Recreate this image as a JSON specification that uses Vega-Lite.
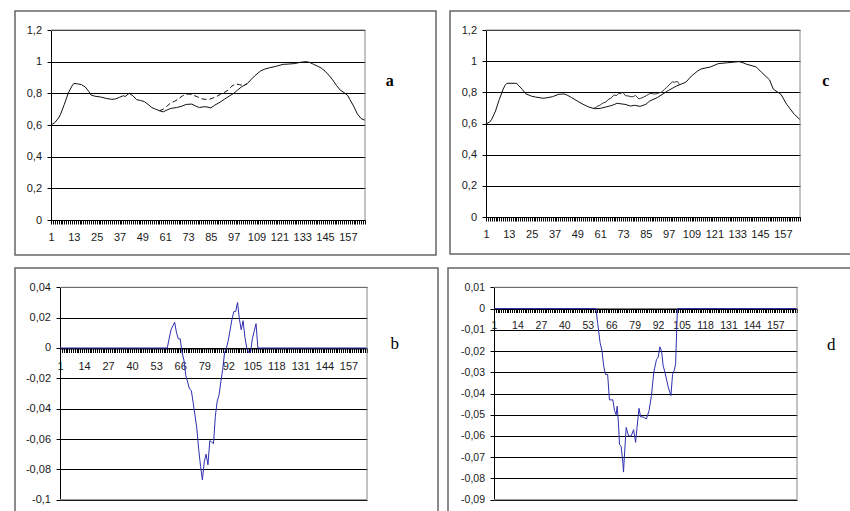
{
"$schema": "https://vega.github.io/schema/vega-lite/v6.json",
"padding": {"left": 14, "top": 10, "right": 0, "bottom": 0},
"background": "white",
"spacing": 11,
"datasets": {
"a1": [{"x":1,"y":0.6},{"x":3,"y":0.615},{"x":5,"y":0.645},{"x":6,"y":0.667},{"x":8,"y":0.73},{"x":10,"y":0.8},{"x":12,"y":0.846},{"x":13,"y":0.862},{"x":15,"y":0.86},{"x":17,"y":0.855},{"x":19,"y":0.84},{"x":21,"y":0.81},{"x":22,"y":0.79},{"x":24,"y":0.782},{"x":27,"y":0.777},{"x":30,"y":0.768},{"x":33,"y":0.762},{"x":35,"y":0.765},{"x":37,"y":0.775},{"x":39,"y":0.785},{"x":40,"y":0.78},{"x":42,"y":0.8},{"x":44,"y":0.785},{"x":46,"y":0.76},{"x":48,"y":0.755},{"x":50,"y":0.748},{"x":52,"y":0.73},{"x":54,"y":0.71},{"x":56,"y":0.7},{"x":58,"y":0.69},{"x":60,"y":0.683},{"x":62,"y":0.695},{"x":64,"y":0.705},{"x":67,"y":0.71},{"x":70,"y":0.72},{"x":72,"y":0.73},{"x":75,"y":0.732},{"x":77,"y":0.72},{"x":79,"y":0.71},{"x":81,"y":0.715},{"x":83,"y":0.714},{"x":85,"y":0.708},{"x":87,"y":0.725},{"x":90,"y":0.745},{"x":92,"y":0.762},{"x":95,"y":0.785},{"x":97,"y":0.8},{"x":99,"y":0.82},{"x":101,"y":0.84},{"x":104,"y":0.86},{"x":106,"y":0.885},{"x":108,"y":0.91},{"x":111,"y":0.94},{"x":113,"y":0.952},{"x":116,"y":0.962},{"x":119,"y":0.97},{"x":123,"y":0.983},{"x":126,"y":0.985},{"x":129,"y":0.988},{"x":132,"y":0.996},{"x":135,"y":1.0},{"x":137,"y":0.995},{"x":139,"y":0.983},{"x":141,"y":0.972},{"x":143,"y":0.96},{"x":145,"y":0.94},{"x":147,"y":0.915},{"x":149,"y":0.885},{"x":151,"y":0.85},{"x":153,"y":0.82},{"x":155,"y":0.805},{"x":157,"y":0.785},{"x":158,"y":0.762},{"x":160,"y":0.72},{"x":162,"y":0.67},{"x":164,"y":0.64},{"x":166,"y":0.63}],
"a2": [{"x":58,"y":0.69},{"x":60,"y":0.7},{"x":62,"y":0.72},{"x":64,"y":0.74},{"x":66,"y":0.75},{"x":68,"y":0.765},{"x":70,"y":0.783},{"x":72,"y":0.795},{"x":74,"y":0.795},{"x":76,"y":0.787},{"x":78,"y":0.778},{"x":80,"y":0.766},{"x":82,"y":0.762},{"x":84,"y":0.762},{"x":86,"y":0.77},{"x":88,"y":0.78},{"x":90,"y":0.794},{"x":92,"y":0.805},{"x":94,"y":0.82},{"x":96,"y":0.845},{"x":98,"y":0.86},{"x":100,"y":0.855},{"x":102,"y":0.85},{"x":104,"y":0.86}],
"c1": [{"x":1,"y":0.597},{"x":3,"y":0.61},{"x":4,"y":0.627},{"x":6,"y":0.68},{"x":8,"y":0.755},{"x":10,"y":0.82},{"x":11,"y":0.845},{"x":12,"y":0.858},{"x":17,"y":0.858},{"x":18,"y":0.845},{"x":20,"y":0.82},{"x":22,"y":0.79},{"x":25,"y":0.775},{"x":27,"y":0.77},{"x":31,"y":0.762},{"x":33,"y":0.765},{"x":36,"y":0.772},{"x":39,"y":0.787},{"x":42,"y":0.79},{"x":44,"y":0.78},{"x":46,"y":0.766},{"x":49,"y":0.744},{"x":52,"y":0.723},{"x":55,"y":0.706},{"x":58,"y":0.695},{"x":61,"y":0.697},{"x":64,"y":0.706},{"x":66,"y":0.712},{"x":68,"y":0.72},{"x":70,"y":0.73},{"x":72,"y":0.726},{"x":74,"y":0.723},{"x":77,"y":0.712},{"x":79,"y":0.717},{"x":82,"y":0.71},{"x":85,"y":0.723},{"x":87,"y":0.744},{"x":91,"y":0.766},{"x":94,"y":0.79},{"x":97,"y":0.813},{"x":101,"y":0.84},{"x":104,"y":0.855},{"x":106,"y":0.865},{"x":109,"y":0.905},{"x":112,"y":0.935},{"x":114,"y":0.95},{"x":119,"y":0.963},{"x":123,"y":0.984},{"x":128,"y":0.99},{"x":134,"y":0.997},{"x":136,"y":0.99},{"x":138,"y":0.98},{"x":143,"y":0.963},{"x":146,"y":0.926},{"x":150,"y":0.88},{"x":152,"y":0.82},{"x":156,"y":0.787},{"x":159,"y":0.723},{"x":163,"y":0.659},{"x":166,"y":0.625}],
"c2": [{"x":57.5,"y":0.698},{"x":58.5,"y":0.702},{"x":59.8,"y":0.712},{"x":60.9,"y":0.717},{"x":61.8,"y":0.726},{"x":62.8,"y":0.733},{"x":64,"y":0.737},{"x":65,"y":0.752},{"x":66.9,"y":0.765},{"x":67.8,"y":0.778},{"x":68.7,"y":0.783},{"x":69.3,"y":0.778},{"x":70,"y":0.784},{"x":70.6,"y":0.793},{"x":71.5,"y":0.792},{"x":72.5,"y":0.798},{"x":72.8,"y":0.801},{"x":73.4,"y":0.792},{"x":74.3,"y":0.778},{"x":75.6,"y":0.777},{"x":77.1,"y":0.772},{"x":78.4,"y":0.772},{"x":79.5,"y":0.78},{"x":80.3,"y":0.771},{"x":81.4,"y":0.758},{"x":82.3,"y":0.762},{"x":83.6,"y":0.768},{"x":85.5,"y":0.78},{"x":87,"y":0.792},{"x":88.3,"y":0.792},{"x":89.6,"y":0.789},{"x":91.1,"y":0.792},{"x":92,"y":0.797},{"x":93,"y":0.8},{"x":93.9,"y":0.808},{"x":94.8,"y":0.82},{"x":95.8,"y":0.83},{"x":97.6,"y":0.853},{"x":99.1,"y":0.868},{"x":100,"y":0.864},{"x":101,"y":0.869},{"x":101.7,"y":0.869},{"x":102.3,"y":0.856},{"x":102.7,"y":0.848}],
"b": [{"x":1,"y":0},{"x":59,"y":0},{"x":61,"y":0.012},{"x":63,"y":0.017},{"x":64,"y":0.01},{"x":65,"y":0.006},{"x":66,"y":0.006},{"x":67,"y":-0.003},{"x":68,"y":-0.008},{"x":69,"y":-0.018},{"x":71,"y":-0.027},{"x":72,"y":-0.028},{"x":73,"y":-0.036},{"x":75,"y":-0.053},{"x":76,"y":-0.067},{"x":77,"y":-0.078},{"x":78,"y":-0.087},{"x":79,"y":-0.075},{"x":80,"y":-0.07},{"x":81,"y":-0.077},{"x":82,"y":-0.061},{"x":83,"y":-0.062},{"x":84,"y":-0.063},{"x":85,"y":-0.045},{"x":86,"y":-0.035},{"x":87,"y":-0.031},{"x":88,"y":-0.022},{"x":89,"y":-0.014},{"x":90,"y":-0.003},{"x":91,"y":0},{"x":92,"y":0.005},{"x":93,"y":0.012},{"x":94,"y":0.019},{"x":95,"y":0.024},{"x":96,"y":0.024},{"x":97,"y":0.03},{"x":98,"y":0.019},{"x":99,"y":0.012},{"x":100,"y":0.018},{"x":101,"y":0.007},{"x":102,"y":0},{"x":103,"y":-0.003},{"x":104,"y":-0.003},{"x":105,"y":0.006},{"x":106,"y":0.011},{"x":107,"y":0.016},{"x":108,"y":0},{"x":167,"y":0}],
"d": [{"x":1,"y":0},{"x":57.5,"y":0},{"x":58.5,"y":-0.007},{"x":59.8,"y":-0.016},{"x":60.9,"y":-0.02},{"x":61.8,"y":-0.027},{"x":62.8,"y":-0.031},{"x":64,"y":-0.031},{"x":65,"y":-0.043},{"x":66.9,"y":-0.043},{"x":67.8,"y":-0.048},{"x":68.7,"y":-0.05},{"x":69.3,"y":-0.046},{"x":70,"y":-0.054},{"x":70.6,"y":-0.064},{"x":71.5,"y":-0.065},{"x":72.5,"y":-0.073},{"x":72.8,"y":-0.077},{"x":73.4,"y":-0.068},{"x":74.3,"y":-0.056},{"x":75.6,"y":-0.06},{"x":77.1,"y":-0.06},{"x":78.4,"y":-0.057},{"x":79.5,"y":-0.063},{"x":80.3,"y":-0.056},{"x":81.4,"y":-0.047},{"x":82.3,"y":-0.051},{"x":83.6,"y":-0.051},{"x":85.5,"y":-0.052},{"x":87,"y":-0.048},{"x":88.3,"y":-0.041},{"x":89.6,"y":-0.03},{"x":91.1,"y":-0.024},{"x":92,"y":-0.023},{"x":93,"y":-0.018},{"x":93.9,"y":-0.02},{"x":94.8,"y":-0.027},{"x":95.8,"y":-0.03},{"x":97.6,"y":-0.037},{"x":99.1,"y":-0.041},{"x":100,"y":-0.031},{"x":101,"y":-0.029},{"x":101.7,"y":-0.026},{"x":102.3,"y":-0.01},{"x":102.7,"y":0},{"x":169,"y":0}]
},
"vconcat": [
{"spacing": 12, "hconcat": [
{"width": 421, "height": 244, "layer": [
 {"data": {"name": "a1"}, "mark": {"type": "line", "color": "#111", "strokeWidth": 1}, "encoding": {"x": {"field": "x", "type": "quantitative", "scale": {"domain": [1,166], "range": [36,350], "nice": false, "zero": false}, "axis": {"title": null, "tickCount": 166, "labelExpr": "(datum.value - 1) % 12 === 0 ? datum.label : ''", "offset": -35}}, "y": {"field": "y", "type": "quantitative", "scale": {"domain": [0,1.2], "range": [209,19], "nice": false, "zero": false}, "axis": {"title": null, "values": [0,0.2,0.4,0.6,0.8,1,1.2], "tickCount": 20, "labelExpr": "replace('' + datum.value, '.', ',')", "offset": -36}}}},
 {"data": {"name": "a2"}, "mark": {"type": "line", "color": "#111", "strokeWidth": 1, "strokeDash": [5,3]}, "encoding": {"x": {"field": "x", "type": "quantitative"}, "y": {"field": "y", "type": "quantitative"}}},
 {"data": {"values": [{}]}, "mark": {"type": "rule", "color": "#888"}, "encoding": {"x": {"datum": 1, "type": "quantitative"}, "x2": {"datum": 166}, "y": {"datum": 1.2, "type": "quantitative"}}},
 {"data": {"values": [{}]}, "mark": {"type": "rule", "color": "#888"}, "encoding": {"x": {"datum": 166, "type": "quantitative"}, "y": {"datum": 0, "type": "quantitative"}, "y2": {"datum": 1.2}}},
 {"data": {"values": [{}]}, "mark": {"type": "text", "text": "a", "font": "Liberation Serif", "fontSize": 16, "fontWeight": "bold", "color": "#000"}, "encoding": {"x": {"datum": 179, "type": "quantitative"}, "y": {"datum": 0.878, "type": "quantitative"}}}
]},
{"width": 420, "height": 243, "layer": [
 {"data": {"name": "c1"}, "mark": {"type": "line", "color": "#111", "strokeWidth": 1}, "encoding": {"x": {"field": "x", "type": "quantitative", "scale": {"domain": [1,166], "range": [36,350], "nice": false, "zero": false}, "axis": {"title": null, "tickCount": 166, "labelExpr": "(datum.value - 1) % 12 === 0 ? datum.label : ''", "offset": -37}}, "y": {"field": "y", "type": "quantitative", "scale": {"domain": [0,1.2], "range": [206,19], "nice": false, "zero": false}, "axis": {"title": null, "values": [0,0.2,0.4,0.6,0.8,1,1.2], "tickCount": 20, "labelExpr": "replace('' + datum.value, '.', ',')", "offset": -36}}}},
 {"data": {"name": "c2"}, "mark": {"type": "line", "color": "#333", "strokeWidth": 1}, "encoding": {"x": {"field": "x", "type": "quantitative"}, "y": {"field": "y", "type": "quantitative"}}},
 {"data": {"values": [{}]}, "mark": {"type": "rule", "color": "#888"}, "encoding": {"x": {"datum": 1, "type": "quantitative"}, "x2": {"datum": 166}, "y": {"datum": 1.2, "type": "quantitative"}}},
 {"data": {"values": [{}]}, "mark": {"type": "rule", "color": "#888"}, "encoding": {"x": {"datum": 166, "type": "quantitative"}, "y": {"datum": 0, "type": "quantitative"}, "y2": {"datum": 1.2}}},
 {"data": {"values": [{}]}, "mark": {"type": "text", "text": "c", "font": "Liberation Serif", "fontSize": 16, "fontWeight": "bold", "color": "#000"}, "encoding": {"x": {"datum": 179.6, "type": "quantitative"}, "y": {"datum": 0.873, "type": "quantitative"}}}
]}
]},
{"spacing": 8, "hconcat": [
{"width": 423, "height": 260, "layer": [
 {"data": {"name": "b"}, "mark": {"type": "line", "color": "#2e2eb0", "strokeWidth": 1}, "encoding": {"x": {"field": "x", "type": "quantitative", "scale": {"domain": [1,167], "range": [45,352], "nice": false, "zero": false}, "axis": {"title": null, "tickCount": 167, "labelExpr": "(datum.value - 1) % 13 === 0 ? datum.label : ''", "offset": -179.5}}, "y": {"field": "y", "type": "quantitative", "scale": {"domain": [-0.1,0.04], "range": [231.7,19.3], "nice": false, "zero": false}, "axis": {"title": null, "values": [-0.1,-0.08,-0.06,-0.04,-0.02,0,0.02,0.04], "tickCount": 20, "labelExpr": "replace('' + datum.value, '.', ',')", "offset": -45}}}},
 {"data": {"values": [{}]}, "mark": {"type": "rule", "color": "#888"}, "encoding": {"x": {"datum": 1, "type": "quantitative"}, "x2": {"datum": 167}, "y": {"datum": 0.04, "type": "quantitative"}}},
 {"data": {"values": [{}]}, "mark": {"type": "rule", "color": "#888"}, "encoding": {"x": {"datum": 1, "type": "quantitative"}, "x2": {"datum": 167}, "y": {"datum": -0.1, "type": "quantitative"}}},
 {"data": {"values": [{}]}, "mark": {"type": "rule", "color": "#888"}, "encoding": {"x": {"datum": 167, "type": "quantitative"}, "y": {"datum": -0.1, "type": "quantitative"}, "y2": {"datum": 0.04}}},
 {"data": {"values": [{}]}, "mark": {"type": "text", "text": "b", "font": "Liberation Serif", "fontSize": 17, "color": "#000"}, "encoding": {"x": {"datum": 182, "type": "quantitative"}, "y": {"datum": 0.0023, "type": "quantitative"}}}
]},
{"width": 420, "height": 260, "layer": [
 {"data": {"name": "d"}, "mark": {"type": "line", "color": "#2e2eb0", "strokeWidth": 1}, "encoding": {"x": {"field": "x", "type": "quantitative", "scale": {"domain": [1,169], "range": [46,349], "nice": false, "zero": false}, "axis": {"title": null, "tickCount": 169, "labelExpr": "(datum.value - 1) % 13 === 0 ? datum.label : ''", "offset": -219.5, "labelFontSize": 10.5}}, "y": {"field": "y", "type": "quantitative", "scale": {"domain": [-0.09,0.01], "range": [231.7,19.3], "nice": false, "zero": false}, "axis": {"title": null, "values": [-0.09,-0.08,-0.07,-0.06,-0.05,-0.04,-0.03,-0.02,-0.01,0,0.01], "tickCount": 20, "labelExpr": "replace('' + datum.value, '.', ',')", "offset": -46, "labelFontSize": 10.5}}}},
 {"data": {"values": [{}]}, "mark": {"type": "rule", "color": "#888"}, "encoding": {"x": {"datum": 1, "type": "quantitative"}, "x2": {"datum": 169}, "y": {"datum": 0.01, "type": "quantitative"}}},
 {"data": {"values": [{}]}, "mark": {"type": "rule", "color": "#888"}, "encoding": {"x": {"datum": 1, "type": "quantitative"}, "x2": {"datum": 169}, "y": {"datum": -0.09, "type": "quantitative"}}},
 {"data": {"values": [{}]}, "mark": {"type": "rule", "color": "#888"}, "encoding": {"x": {"datum": 169, "type": "quantitative"}, "y": {"datum": -0.09, "type": "quantitative"}, "y2": {"datum": 0.01}}},
 {"data": {"values": [{}]}, "mark": {"type": "text", "text": "d", "font": "Liberation Serif", "fontSize": 17, "color": "#000"}, "encoding": {"x": {"datum": 188, "type": "quantitative"}, "y": {"datum": -0.0172, "type": "quantitative"}}}
]}
]}
],
"config": {
 "view": {"stroke": "#666", "strokeWidth": 1.5},
 "axis": {"domainColor": "#000", "tickColor": "#000", "gridColor": "#000", "gridWidth": 1, "gridOpacity": 1, "labelColor": "#1a1a1a", "labelFont": "Liberation Sans", "labelFontSize": 11, "tickSize": 4, "labelOverlap": false, "labelFlush": false, "zindex": 0, "domainWidth": 1, "tickWidth": 1},
 "axisX": {"grid": false, "labelPadding": 7.5},
 "axisY": {"grid": true, "labelPadding": 5.5}
}
}
